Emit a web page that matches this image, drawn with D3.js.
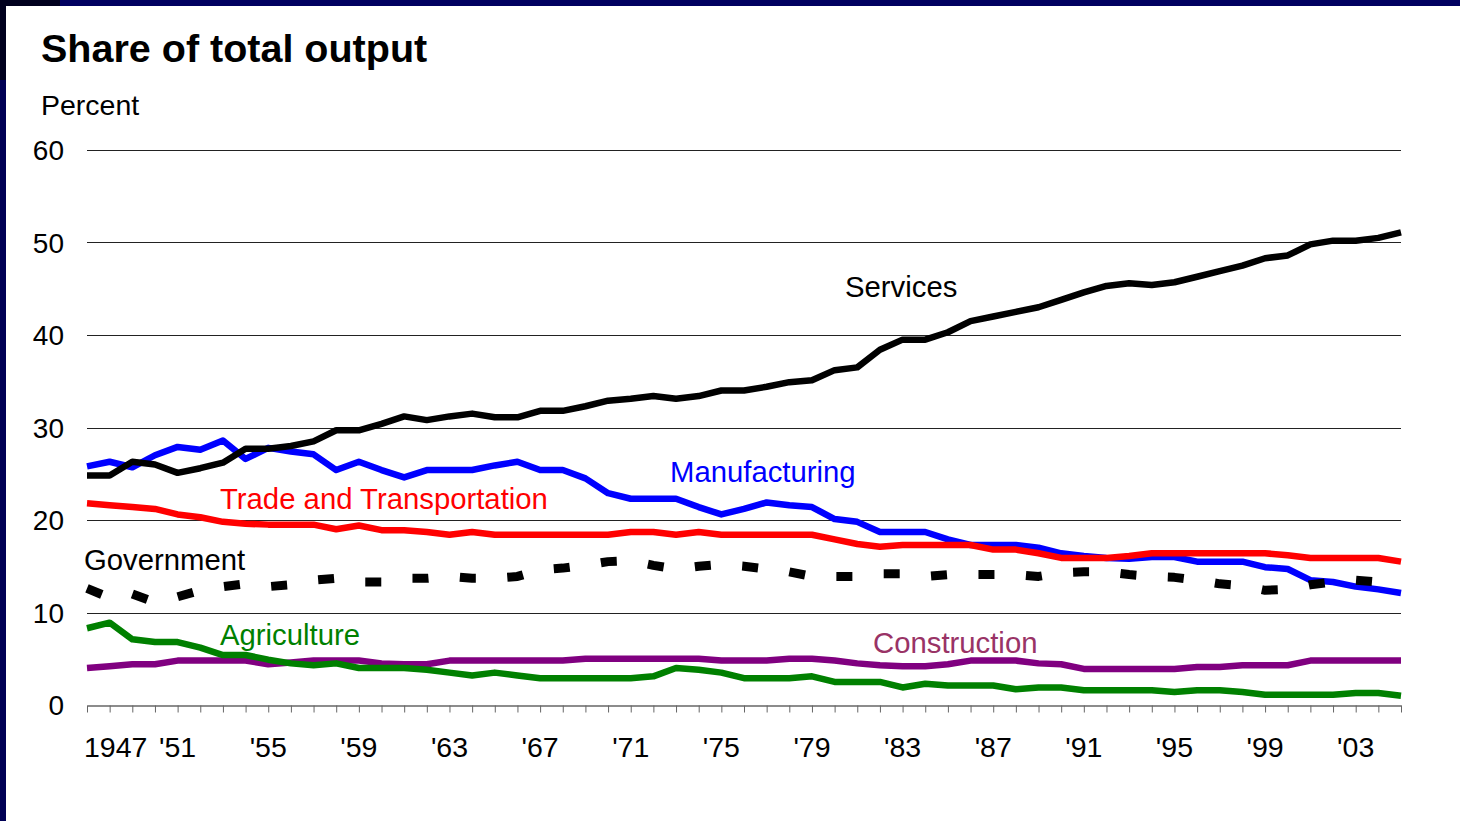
<!DOCTYPE html>
<meta charset="utf-8">
<style>
body { margin: 0; background: #fff; }
text { font-family: "Liberation Sans", Arial, sans-serif; }
</style>
<body>
<script src="https://d3js.org/d3.v7.min.js"></script>
<script>

// years 1947..2005
var years = d3.range(1947, 2006);

var services = [24.8,24.8,26.3,26.0,25.1,25.6,26.2,27.7,27.7,28.0,28.5,29.7,29.7,30.4,31.2,30.8,31.2,31.5,31.1,31.1,
  31.8,31.8,32.3,32.9,33.1,33.4,33.1,33.4,34.0,34.0,34.4,34.9,35.1,36.2,36.5,38.4,39.5,39.5,40.3,41.5,
  42.0,42.5,43.0,43.8,44.6,45.3,45.6,45.4,45.7,46.3,46.9,47.5,48.3,48.6,49.8,50.2,50.2,50.5,51.1];

var manufacturing = [25.8,26.3,25.7,27.0,27.9,27.6,28.6,26.6,27.8,27.4,27.1,25.4,26.3,25.4,24.6,25.4,25.4,25.4,25.9,26.3,
  25.4,25.4,24.5,22.9,22.3,22.3,22.3,21.4,20.6,21.2,21.9,21.6,21.4,20.1,19.8,18.7,18.7,18.7,17.9,17.3,
  17.3,17.3,17.0,16.4,16.1,15.9,15.8,16.0,16.0,15.5,15.5,15.5,14.9,14.7,13.5,13.3,12.8,12.5,12.1];

var trade = [21.8,21.6,21.4,21.2,20.6,20.3,19.8,19.6,19.5,19.5,19.5,19.0,19.4,18.9,18.9,18.7,18.4,18.7,18.4,18.4,
  18.4,18.4,18.4,18.4,18.7,18.7,18.4,18.7,18.4,18.4,18.4,18.4,18.4,17.9,17.4,17.1,17.3,17.3,17.3,17.3,
  16.8,16.8,16.4,15.9,15.9,15.9,16.1,16.4,16.4,16.4,16.4,16.4,16.4,16.2,15.9,15.9,15.9,15.9,15.5];

var government = [12.6,11.6,12.0,11.1,11.7,12.4,12.8,13.1,12.8,13.0,13.5,13.7,13.3,13.3,13.7,13.7,13.9,13.7,13.7,13.9,
  14.6,14.8,15.1,15.5,15.6,15.1,14.7,15.0,15.2,15.0,14.7,14.4,13.9,13.9,13.9,14.2,14.2,13.9,14.1,14.1,
  14.1,14.1,13.9,14.3,14.4,14.4,14.1,13.9,13.8,13.5,13.1,12.9,12.4,12.5,13.0,13.3,13.5,13.3,12.8];

var agriculture = [8.3,8.9,7.1,6.8,6.8,6.2,5.4,5.4,4.9,4.5,4.3,4.5,4.0,4.0,4.0,3.8,3.5,3.2,3.5,3.2,
  2.9,2.9,2.9,2.9,2.9,3.1,4.0,3.8,3.5,2.9,2.9,2.9,3.1,2.5,2.5,2.5,1.9,2.3,2.1,2.1,
  2.1,1.7,1.9,1.9,1.6,1.6,1.6,1.6,1.4,1.6,1.6,1.4,1.1,1.1,1.1,1.1,1.3,1.3,1.0];

var construction = [4.0,4.2,4.4,4.4,4.8,4.8,4.8,4.8,4.4,4.6,4.8,4.8,4.8,4.5,4.4,4.4,4.8,4.8,4.8,4.8,
  4.8,4.8,5.0,5.0,5.0,5.0,5.0,5.0,4.8,4.8,4.8,5.0,5.0,4.8,4.5,4.3,4.2,4.2,4.4,4.8,
  4.8,4.8,4.5,4.4,3.9,3.9,3.9,3.9,3.9,4.1,4.1,4.3,4.3,4.3,4.8,4.8,4.8,4.8,4.8];

var yTicks = [0, 10, 20, 30, 40, 50, 60];
var xLabelYears = [1947, 1951, 1955, 1959, 1963, 1967, 1971, 1975, 1979, 1983, 1987, 1991, 1995, 1999, 2003];

var W = 1460, H = 821;

var svg = d3.select("body").append("svg")
    .attr("width", W)
    .attr("height", H);

// dark frame bits
svg.append("rect").attr("x", 0).attr("y", 0).attr("width", W).attr("height", 6).attr("fill", "#000060");
svg.append("rect").attr("x", 0).attr("y", 0).attr("width", 6).attr("height", H).attr("fill", "#000055");
svg.append("rect").attr("x", 0).attr("y", 0).attr("width", 6).attr("height", 80).attr("fill", "#00001e");
svg.append("rect").attr("x", 0).attr("y", 0).attr("width", 60).attr("height", 6).attr("fill", "#00001e");

var x = d3.scaleLinear().domain([1947, 2005]).range([87, 1401]);
var y = d3.scaleLinear().domain([0, 60]).range([705, 150]);

// title
svg.append("text")
    .attr("x", 41).attr("y", 62)
    .attr("font-size", 39.5).attr("font-weight", "bold")
    .text("Share of total output");

svg.append("text")
    .attr("x", 41).attr("y", 115)
    .attr("font-size", 28.5)
    .text("Percent");

// grid
svg.append("g")
  .selectAll("line")
  .data(yTicks.filter(function(d) { return d > 0; }))
  .enter().append("line")
    .attr("x1", 87).attr("x2", 1401)
    .attr("y1", function(d) { return Math.round(y(d)) + 0.5; })
    .attr("y2", function(d) { return Math.round(y(d)) + 0.5; })
    .attr("stroke", "#222")
    .attr("stroke-width", 1);

// y labels
svg.append("g")
  .selectAll("text")
  .data(yTicks)
  .enter().append("text")
    .attr("x", 64)
    .attr("y", function(d) { return y(d) + 10; })
    .attr("text-anchor", "end")
    .attr("font-size", 28)
    .text(function(d) { return d; });

// x axis with yearly ticks
var xAxis = svg.append("g")
    .attr("transform", "translate(0," + (Math.round(y(0)) + 0.5) + ")")
    .call(d3.axisBottom(x)
      .tickValues(years)
      .tickSize(7)
      .tickSizeOuter(0)
      .tickFormat(function() { return ""; }));
xAxis.select(".domain").attr("stroke", "#666").attr("stroke-width", 1.5);
xAxis.selectAll(".tick line").attr("stroke", "#666");

svg.append("g")
  .selectAll("text")
  .data(xLabelYears)
  .enter().append("text")
    .attr("x", function(d) { return d === 1947 ? 84 : x(d); })
    .attr("y", 757)
    .attr("text-anchor", function(d) { return d === 1947 ? "start" : "middle"; })
    .attr("font-size", 28.5)
    .text(function(d) { return d === 1947 ? "1947" : "'" + String(d).slice(2); });

// series lines
var line = d3.line()
    .x(function(d, i) { return x(years[i]); })
    .y(function(d) { return y(d); });

var series = [
  {name: "construction", values: construction, color: "#800080", width: 6.5, dash: null},
  {name: "agriculture", values: agriculture, color: "#008000", width: 6.5, dash: null},
  {name: "manufacturing", values: manufacturing, color: "#0000ff", width: 6.5, dash: null},
  {name: "trade", values: trade, color: "#ff0000", width: 6.5, dash: null},
  {name: "services", values: services, color: "#000000", width: 6.5, dash: null},
  {name: "government", values: government, color: "#000000", width: 9, dash: "16,31.5"}
];

svg.append("g")
  .selectAll("path")
  .data(series)
  .enter().append("path")
    .attr("d", function(d) { return line(d.values); })
    .attr("fill", "none")
    .attr("stroke", function(d) { return d.color; })
    .attr("stroke-width", function(d) { return d.width; })
    .attr("stroke-linejoin", "round")
    .attr("stroke-dasharray", function(d) { return d.dash; });

// series labels
var labels = [
  {text: "Services", x: 845, y: 297, color: "#000000"},
  {text: "Manufacturing", x: 670, y: 482, color: "#0000ff"},
  {text: "Trade and Transportation", x: 220, y: 509, color: "#ff0000"},
  {text: "Government", x: 84, y: 570, color: "#000000"},
  {text: "Agriculture", x: 220, y: 645, color: "#008000"},
  {text: "Construction", x: 873, y: 653, color: "#993366"}
];

svg.append("g")
  .selectAll("text")
  .data(labels)
  .enter().append("text")
    .attr("x", function(d) { return d.x; })
    .attr("y", function(d) { return d.y; })
    .attr("font-size", 29.3)
    .attr("fill", function(d) { return d.color; })
    .text(function(d) { return d.text; });

</script>
